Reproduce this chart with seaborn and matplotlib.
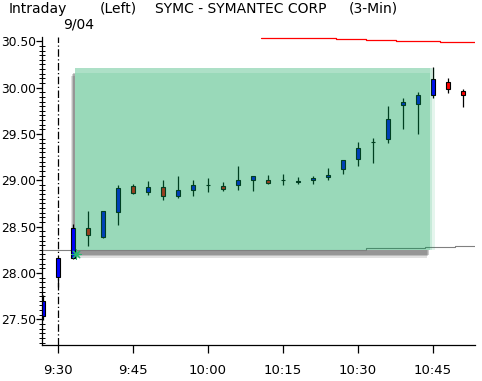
import matplotlib
matplotlib.use("Agg")
import matplotlib.pyplot as plt
import matplotlib.patches as mpatches
import matplotlib.transforms as mtrans
from matplotlib.ticker import MultipleLocator, FuncFormatter, FixedLocator
import numpy as np
import pandas as pd
import seaborn as sns

# ---------------- data ----------------
times = ["9:27", "9:30", "9:33", "9:36", "9:39", "9:42", "9:45", "9:48", "9:51", "9:54",
         "9:57", "10:00", "10:03", "10:06", "10:09", "10:12", "10:15", "10:18", "10:21",
         "10:24", "10:27", "10:30", "10:33", "10:36", "10:39", "10:42", "10:45", "10:48", "10:51"]
open_ = [27.54, 27.96, 28.16, 28.49, 28.39, 28.66, 28.94, 28.87, 28.93, 28.83,
         28.90, 28.945, 28.94, 28.95, 29.00, 29.00, 29.00, 28.98, 29.00,
         29.04, 29.12, 29.23, 29.41, 29.45, 29.81, 29.82, 29.92, 30.06, 29.96]
close = [27.70, 28.16, 28.49, 28.41, 28.67, 28.92, 28.86, 28.93, 28.83, 28.90,
         28.95, 28.945, 28.91, 29.00, 29.05, 28.97, 29.00, 28.99, 29.02,
         29.06, 29.22, 29.35, 29.41, 29.66, 29.84, 29.92, 30.09, 29.98, 29.92]
high = [27.76, 28.16, 28.53, 28.67, 28.67, 28.95, 28.96, 28.99, 29.00, 29.05,
        29.00, 29.02, 28.98, 29.15, 29.05, 29.06, 29.07, 29.04, 29.05,
        29.13, 29.22, 29.41, 29.46, 29.80, 29.89, 29.95, 30.22, 30.10, 29.98]
low = [27.49, 27.85, 28.15, 28.29, 28.38, 28.52, 28.85, 28.84, 28.79, 28.81,
       28.83, 28.87, 28.88, 28.90, 28.88, 28.96, 28.95, 28.96, 28.96,
       29.00, 29.07, 29.15, 29.19, 29.40, 29.55, 29.50, 29.89, 29.94, 29.79]

# red reference line (step), times in clock minutes
red_t = [610.5, 616.5, 625.5, 631.5, 637.5, 646.5, 653.4]
red_v = [30.54, 30.53, 30.52, 30.51, 30.50, 30.49, 30.49]
# gray previous-close line (step)
gray_t = [566.8, 631.5, 643.5, 649.5, 653.4]
gray_v = [28.25, 28.27, 28.28, 28.29, 28.29]

# highlighted zone
box_t = [573.4, 644.6]
box_p = [28.248, 30.211]

xtick_minutes = [570, 585, 600, 615, 630, 645]
session_start = 570
title_parts = ["Intraday", "(Left)", "SYMC - SYMANTEC CORP", "(3-Min)"]
date_label = "9/04"


def to_min(s):
    h, m = s.split(":")
    return int(h) * 60 + float(m)


df = pd.DataFrame({"t": [to_min(s) for s in times], "o": open_, "c": close,
                   "h": high, "l": low})

# ---------------- figure ----------------
sns.set_theme(style="white")
plt.rcParams["font.family"] = ["DejaVu Sans"]

W, H = 482, 381
fig = plt.figure(figsize=(W / 100, H / 100), dpi=100)
ax = fig.add_axes([42 / W, (H - 345) / H, (475 - 42) / W, (345 - 37) / H])
ax.set_xlim(566.8, 653.4)
ax.set_ylim(27.2233, 30.5458)

bw = box_t[1] - box_t[0]
bh = box_p[1] - box_p[0]

# shadow of highlight box (offset down-left, soft), below candles
for (dx, dy, a) in [(-4.5, -7.5, 0.12), (-3.5, -6.0, 0.16), (-2.5, -4.5, 0.20)]:
    off = mtrans.ScaledTranslation(dx / 100, dy / 100, fig.dpi_scale_trans)
    ax.add_patch(mpatches.Rectangle((box_t[0], box_p[0]), bw, bh,
                                    facecolor="black", edgecolor="none", alpha=a,
                                    transform=ax.transData + off, zorder=1.2))
# clean backdrop inside the box
ax.add_patch(mpatches.Rectangle((box_t[0], box_p[0]), bw + 0.2, bh,
                                facecolor="white", edgecolor="none", zorder=1.4))

# gray previous close line & red line
sns.lineplot(x=gray_t, y=gray_v, ax=ax, color="#808080", lw=0.8,
             drawstyle="steps-post", estimator=None, zorder=1.6)
sns.lineplot(x=red_t, y=red_v, ax=ax, color="#ff0000", lw=0.9,
             drawstyle="steps-post", estimator=None, zorder=6)

# session separator
ax.axvline(session_start, color="black", lw=0.9, ls=(0, (6, 2, 1, 2)), zorder=1.6)

# candles
up = df["c"] >= df["o"]
ax.vlines(df["t"], df["l"], df["h"], color="black", lw=0.9, zorder=2)
body_bottom = np.minimum(df["o"], df["c"])
body_h = np.abs(df["c"] - df["o"])
colors = np.where(up, "#0000ff", "#ff0000")
ax.bar(df["t"], body_h, bottom=body_bottom, width=0.95, color=colors,
       edgecolor="black", linewidth=0.8, zorder=3)

# main highlight box (translucent green)
ax.add_patch(mpatches.Rectangle((box_t[0], box_p[0]), bw - 0.3, bh - 0.05,
                                facecolor="#00a052", edgecolor="none", alpha=0.4, zorder=5))
# softer top and right edges
ax.add_patch(mpatches.Rectangle((box_t[0], box_p[1] - 0.05), bw - 0.3, 0.05,
                                facecolor="#00a052", edgecolor="none", alpha=0.32, zorder=5))
ax.add_patch(mpatches.Rectangle((box_t[1] - 0.3, box_p[0]), 0.5, bh,
                                facecolor="#00a052", edgecolor="none", alpha=0.22, zorder=5))
ax.add_patch(mpatches.Rectangle((box_t[1] + 0.2, box_p[0]), 0.5, bh,
                                facecolor="#00a052", edgecolor="none", alpha=0.10, zorder=5))
ax.scatter([box_t[0] + 0.2], [box_p[0] - 0.04], marker=(8, 2, 0), s=45,
           color="#28b870", lw=0.8, zorder=6)

# axes styling
for s in ["top", "right"]:
    ax.spines[s].set_visible(False)
for s in ["left", "bottom"]:
    ax.spines[s].set_color("black")
    ax.spines[s].set_linewidth(0.9)
    ax.spines[s].set_zorder(7)

ax.xaxis.set_major_locator(FixedLocator(xtick_minutes))
ax.xaxis.set_major_formatter(FuncFormatter(lambda v, p: f"{int(v)//60}:{int(v)%60:02d}"))
ax.yaxis.set_major_locator(MultipleLocator(0.5))
ax.yaxis.set_minor_locator(MultipleLocator(0.05))
ax.yaxis.set_major_formatter(FuncFormatter(lambda v, p: f"{v:.2f}"))
ax.tick_params(axis="x", which="major", direction="out", length=5.5, width=0.9,
               color="black", labelsize=9.5, pad=8, labelcolor="black", bottom=True)
ax.tick_params(axis="y", which="major", direction="out", length=4, width=0.9,
               color="black", labelsize=8.8, pad=0.5, labelcolor="black", left=True)
ax.tick_params(axis="y", which="minor", direction="inout", length=4, width=0.7,
               color="black", left=True)
ax.grid(False)
ax.set_xlabel("")
ax.set_ylabel("")

# titles
xs = [9, 100, 155, 349]
for txt, x in zip(title_parts, xs):
    fig.text(x / W, 1 - 9 / H, txt, ha="left", va="center", fontsize=10, color="black")
fig.text(63 / W, 1 - 24 / H, date_label, ha="left", va="center", fontsize=10, color="black")

fig.savefig("out.png", dpi=100, facecolor="white")
